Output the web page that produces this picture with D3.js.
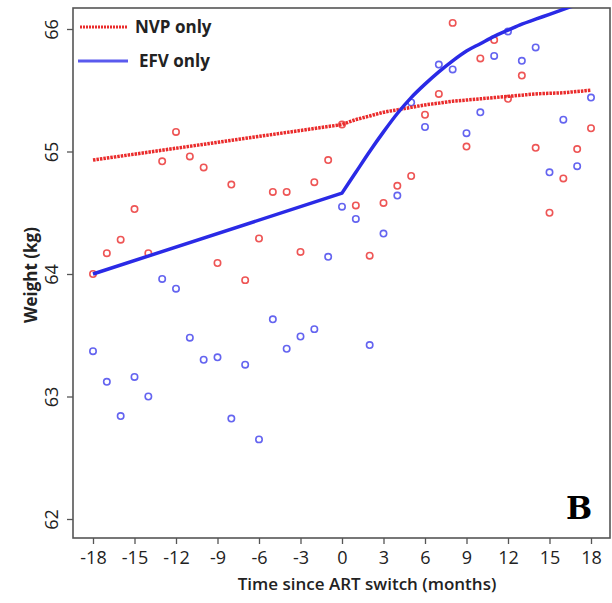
<!DOCTYPE html>
<html>
<head>
<meta charset="utf-8">
<script src="https://cdn.jsdelivr.net/npm/d3@7/dist/d3.min.js"></script>
<style>
  body { margin: 0; background: #fff; }
  svg text { font-family: "Open Sans", "Liberation Sans", sans-serif; fill: #222; }
</style>
</head>
<body>
<svg id="chart"></svg>
<script>

// observed monthly means, months -18 .. 18
var months = [-18,-17,-16,-15,-14,-13,-12,-11,-10,-9,-8,-7,-6,-5,-4,-3,-2,-1,0,
  1,2,3,4,5,6,7,8,9,10,11,12,13,14,15,16,17,18];

var nvpObserved = [64.00,64.17,64.28,64.53,64.17,64.92,65.16,64.96,64.87,64.09,64.73,63.95,64.29,64.67,64.67,64.18,64.75,64.93,65.22,
  64.56,64.15,64.58,64.72,64.80,65.30,65.47,66.05,65.04,65.76,65.91,65.43,65.62,65.03,64.50,64.78,65.02,65.19];

var efvObserved = [63.37,63.12,62.84,63.16,63.00,63.96,63.88,63.48,63.30,63.32,62.82,63.26,62.65,63.63,63.39,63.49,63.55,64.14,64.55,
  64.45,63.42,64.33,64.64,65.40,65.20,65.71,65.67,65.15,65.32,65.78,65.98,65.74,65.85,64.83,65.26,64.88,65.44];

// fitted curves (straight before the switch, curved after)
var fitMonths = [-18,0,1,2,3,4,5,6,7,8,9,10,11,12,13,14,15,16,17,18];
var nvpFit = [64.93,65.22,65.26,65.29,65.32,65.34,65.36,65.38,65.395,65.41,65.42,65.43,65.44,65.45,65.46,65.47,65.475,65.48,65.49,65.50];
var efvFit = [64.00,64.66,64.83,65.00,65.16,65.31,65.44,65.55,65.65,65.74,65.82,65.88,65.94,65.99,66.04,66.08,66.12,66.16,66.20,66.24];

var xTicks = [-18,-15,-12,-9,-6,-3,0,3,6,9,12,15,18];
var yTicks = [62,63,64,65,66];

var seriesNames = ["NVP only", "EFV only"];

var width = 612, height = 603;
var frame = { left: 73, top: 8, right: 610, bottom: 538 };

var svg = d3.select("#chart")
  .attr("width", width)
  .attr("height", height);

var x = d3.scaleLinear().domain([-18, 18]).range([93, 591]);
var y = d3.scaleLinear().domain([62, 66]).range([519, 29]);

svg.append("defs")
  .append("clipPath")
  .attr("id", "plot-clip")
  .append("rect")
  .attr("x", frame.left)
  .attr("y", frame.top)
  .attr("width", frame.right - frame.left)
  .attr("height", frame.bottom - frame.top);

// axes
var xAxis = d3.axisBottom(x).tickValues(xTicks).tickSize(6).tickPadding(4)
  .tickFormat(function (d) { return d < 0 ? "-" + Math.abs(d) : d; });
var yAxis = d3.axisLeft(y).tickValues(yTicks).tickSize(6).tickPadding(4)
  .tickFormat(d3.format("d"));

var gx = svg.append("g")
  .attr("transform", "translate(0," + frame.bottom + ")")
  .call(xAxis);
gx.select(".domain").remove();
gx.selectAll("line").attr("stroke", "#555").attr("stroke-width", 1.3);
gx.selectAll("text")
  .style("font-size", "18px")
  .attr("dy", "0.9em");

var gy = svg.append("g")
  .attr("transform", "translate(" + frame.left + ",0)")
  .call(yAxis);
gy.select(".domain").remove();
gy.selectAll("line").attr("stroke", "#555").attr("stroke-width", 1.3);
gy.selectAll("text")
  .style("font-size", "18px")
  .attr("text-anchor", "middle")
  .attr("x", 0)
  .attr("dy", 0)
  .attr("transform", "translate(-15,0) rotate(-90)");

// frame
svg.append("rect")
  .attr("x", frame.left)
  .attr("y", frame.top)
  .attr("width", frame.right - frame.left)
  .attr("height", frame.bottom - frame.top)
  .attr("fill", "none")
  .attr("stroke", "#555")
  .attr("stroke-width", 1.6);

var plot = svg.append("g").attr("clip-path", "url(#plot-clip)");

// observed points
plot.selectAll(".nvp-pt")
  .data(months)
  .enter()
  .append("circle")
  .attr("class", "nvp-pt")
  .attr("cx", function (d) { return x(d); })
  .attr("cy", function (d, i) { return y(nvpObserved[i]); })
  .attr("r", 3.2)
  .attr("fill", "none")
  .attr("stroke", "#ee5555")
  .attr("stroke-width", 1.6);

plot.selectAll(".efv-pt")
  .data(months)
  .enter()
  .append("circle")
  .attr("class", "efv-pt")
  .attr("cx", function (d) { return x(d); })
  .attr("cy", function (d, i) { return y(efvObserved[i]); })
  .attr("r", 3.2)
  .attr("fill", "none")
  .attr("stroke", "#6464f0")
  .attr("stroke-width", 1.6);

// fitted lines: straight segment up to the switch, smooth curve after it
var line = d3.line()
  .x(function (d) { return x(d[0]); })
  .y(function (d) { return y(d[1]); });
var curve = d3.line()
  .x(function (d) { return x(d[0]); })
  .y(function (d) { return y(d[1]); })
  .curve(d3.curveMonotoneX);

function drawFit(values, cls, color, dash) {
  var pts = d3.zip(fitMonths, values);
  var pre = pts.filter(function (p) { return p[0] <= 0; });
  var post = pts.filter(function (p) { return p[0] >= 0; });
  plot.append("path")
    .attr("class", cls)
    .attr("d", line(pre) + curve(post).replace(/^M/, "L"))
    .attr("fill", "none")
    .attr("stroke", color)
    .attr("stroke-width", 3.5)
    .attr("stroke-linejoin", "round")
    .attr("stroke-dasharray", dash);
}

drawFit(nvpFit, "nvp-fit", "#ea2b2b", "2.5,1");
drawFit(efvFit, "efv-fit", "#2a2ae6", null);

// legend
var legend = svg.append("g");

legend.append("line")
  .attr("x1", 80).attr("x2", 128).attr("y1", 27).attr("y2", 27)
  .attr("stroke", "#ea2b2b").attr("stroke-width", 3)
  .attr("stroke-dasharray", "2,1");
legend.append("text")
  .attr("x", 135).attr("y", 27).attr("dy", "0.35em")
  .style("font-size", "17px").style("font-weight", "bold")
  .text(seriesNames[0]);

legend.append("line")
  .attr("x1", 78).attr("x2", 128).attr("y1", 61).attr("y2", 61)
  .attr("stroke", "#5a5aee").attr("stroke-width", 3);
legend.append("text")
  .attr("x", 139).attr("y", 61).attr("dy", "0.35em")
  .style("font-size", "17px").style("font-weight", "bold")
  .text(seriesNames[1]);

// panel letter
svg.append("text")
  .attr("x", 579).attr("y", 519)
  .attr("text-anchor", "middle")
  .style("font-family", "'DejaVu Serif', serif")
  .style("font-size", "31px")
  .style("font-weight", "bold")
  .style("fill", "#000")
  .text("B");

// axis titles
svg.append("text")
  .attr("x", 367).attr("y", 590)
  .attr("text-anchor", "middle")
  .style("font-size", "17px")
  .style("font-weight", 600)
  .text("Time since ART switch (months)");

svg.append("text")
  .attr("transform", "translate(37," + 275 + ") rotate(-90)")
  .attr("text-anchor", "middle")
  .style("font-size", "17px")
  .style("font-weight", "bold")
  .text("Weight (kg)");

</script>
</body>
</html>
